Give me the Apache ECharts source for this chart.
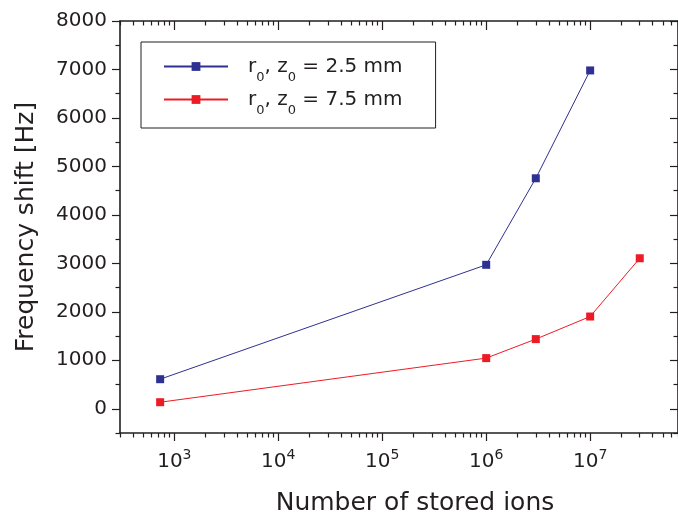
<!DOCTYPE html>
<html>
<head>
<meta charset="UTF-8">
<script src="https://cdn.jsdelivr.net/npm/echarts@6/dist/echarts.min.js"></script>
</head>
<body style="margin:0;">
<div id="chart" style="width:678px;height:517px;"></div>
<script>
// values
var ions_25 = [730, 1e6, 3e6, 1e7];
var shift_25 = [610, 2970, 4755, 6980];
var ions_75 = [730, 1e6, 3e6, 1e7, 3e7];
var shift_75 = [135, 1045, 1437, 1903, 3105];

var xMajor = [1e3, 1e4, 1e5, 1e6, 1e7];
var yMajor = [0, 1000, 2000, 3000, 4000, 5000, 6000, 7000, 8000];
var yMinor = [-500, 500, 1500, 2500, 3500, 4500, 5500, 6500, 7500];

var X_MIN = 300, X_MAX = 7e7;
var FONT = 'DejaVu Sans';
var INK = '#231f20';
var BLUE = '#2e3192';
var RED = '#ed1c24';

// minor ticks 2..9 x 10^k
var xMinor = [];
for (var k = 2; k <= 7; k++) {
    for (var m = 2; m <= 9; m++) {
        var v = m * Math.pow(10, k);
        if (v >= X_MIN && v <= X_MAX) xMinor.push(v);
    }
}

function pairs(xs, ys) {
    var out = [];
    for (var i = 0; i < xs.length; i++) out.push([xs[i], ys[i]]);
    return out;
}

var chart = echarts.init(document.getElementById('chart'));

var lineStyleAxis = { color: INK, width: 1.6 };

function xAx(pos, ticks, len, inside, showLine, labels) {
    return {
        type: 'log', logBase: 10, min: X_MIN, max: X_MAX, position: pos,
        axisLine: { show: showLine, onZero: false, lineStyle: lineStyleAxis },
        axisTick: { show: true, inside: inside, length: len, customValues: ticks, lineStyle: { color: INK, width: 1.2 } },
        axisLabel: labels ? {
            show: true, margin: 15, customValues: xMajor,
            formatter: function (v) { return '{b|10}{s|' + Math.round(Math.log10(v)) + '}'; },
            rich: {
                b: { fontSize: 20, fontFamily: FONT, color: INK, lineHeight: 24, verticalAlign: 'bottom' },
                s: { fontSize: 14, fontFamily: FONT, color: INK, lineHeight: 14, verticalAlign: 'top' }
            }
        } : { show: false },
        splitLine: { show: false },
        minorTick: { show: false }
    };
}

function yAx(pos, ticks, len, inside, showLine, labels) {
    return {
        type: 'value', min: -500, max: 8000, position: pos,
        axisLine: { show: showLine, onZero: false, lineStyle: lineStyleAxis },
        axisTick: { show: true, inside: inside, length: len, customValues: ticks, lineStyle: { color: INK, width: 1.2 } },
        axisLabel: labels ? {
            show: true, margin: 13, customValues: yMajor, fontSize: 20, fontFamily: FONT, color: INK,
            formatter: function (v) { return String(v); }
        } : { show: false },
        splitLine: { show: false }
    };
}

var xBottom = xAx('bottom', xMajor, 8, false, true, true);
xBottom.name = 'Number of stored ions';
xBottom.nameLocation = 'middle';
xBottom.nameGap = 58;
xBottom.nameTextStyle = { fontSize: 25, fontFamily: FONT, color: INK, padding: [0, 0, 0, 32] };

var yLeft = yAx('left', yMajor, 8, false, true, true);
yLeft.name = 'Frequency shift [Hz]';
yLeft.nameLocation = 'middle';
yLeft.nameGap = 81;
yLeft.nameTextStyle = { fontSize: 25, fontFamily: FONT, color: INK };

var legendRich = {
    f: { fontSize: 20, fontFamily: FONT, color: INK, lineHeight: 24, padding: [0, 0, 0, 15] },
    m: { fontSize: 20, fontFamily: FONT, color: INK, lineHeight: 24 },
    s: { fontSize: 13, fontFamily: FONT, color: INK, lineHeight: 10, padding: [22, 0, 0, 0] }
};
var legendText = {
    'r0, z0 = 2.5 mm': '{f|r}{s|0}{m|, z}{s|0}{m| = 2.5 mm}',
    'r0, z0 = 7.5 mm': '{f|r}{s|0}{m|, z}{s|0}{m| = 7.5 mm}'
};

chart.setOption({
    animation: false,
    backgroundColor: '#ffffff',
    grid: { left: 120, top: 21, right: 0, bottom: 84, containLabel: false, outerBoundsMode: 'none' },
    legend: {
        left: 141, top: 42, orient: 'vertical',
        padding: [7, 33, 11, 22],
        itemGap: -2, itemWidth: 64, itemHeight: 11,
        borderColor: INK, borderWidth: 1,
        formatter: function (name) { return legendText[name]; },
        textStyle: { rich: legendRich }
    },
    xAxis: [
        xBottom,
        xAx('bottom', xMinor, 4.5, false, false, false),
        xAx('top', xMajor, 9, true, true, false),
        xAx('top', xMinor, 4.5, true, false, false)
    ],
    yAxis: [
        yLeft,
        yAx('left', yMinor, 4.5, false, false, false),
        yAx('right', yMajor, 8, true, true, false),
        yAx('right', yMinor, 4.5, true, false, false)
    ],
    series: [
        {
            name: 'r0, z0 = 2.5 mm', type: 'line', xAxisIndex: 0, yAxisIndex: 0,
            data: pairs(ions_25, shift_25),
            symbol: 'rect', symbolSize: 8,
            itemStyle: { color: BLUE }, lineStyle: { color: BLUE, width: 1 }
        },
        {
            name: 'r0, z0 = 7.5 mm', type: 'line', xAxisIndex: 0, yAxisIndex: 0,
            data: pairs(ions_75, shift_75),
            symbol: 'rect', symbolSize: 8,
            itemStyle: { color: RED }, lineStyle: { color: RED, width: 1 }
        }
    ]
});
</script>
</body>
</html>
